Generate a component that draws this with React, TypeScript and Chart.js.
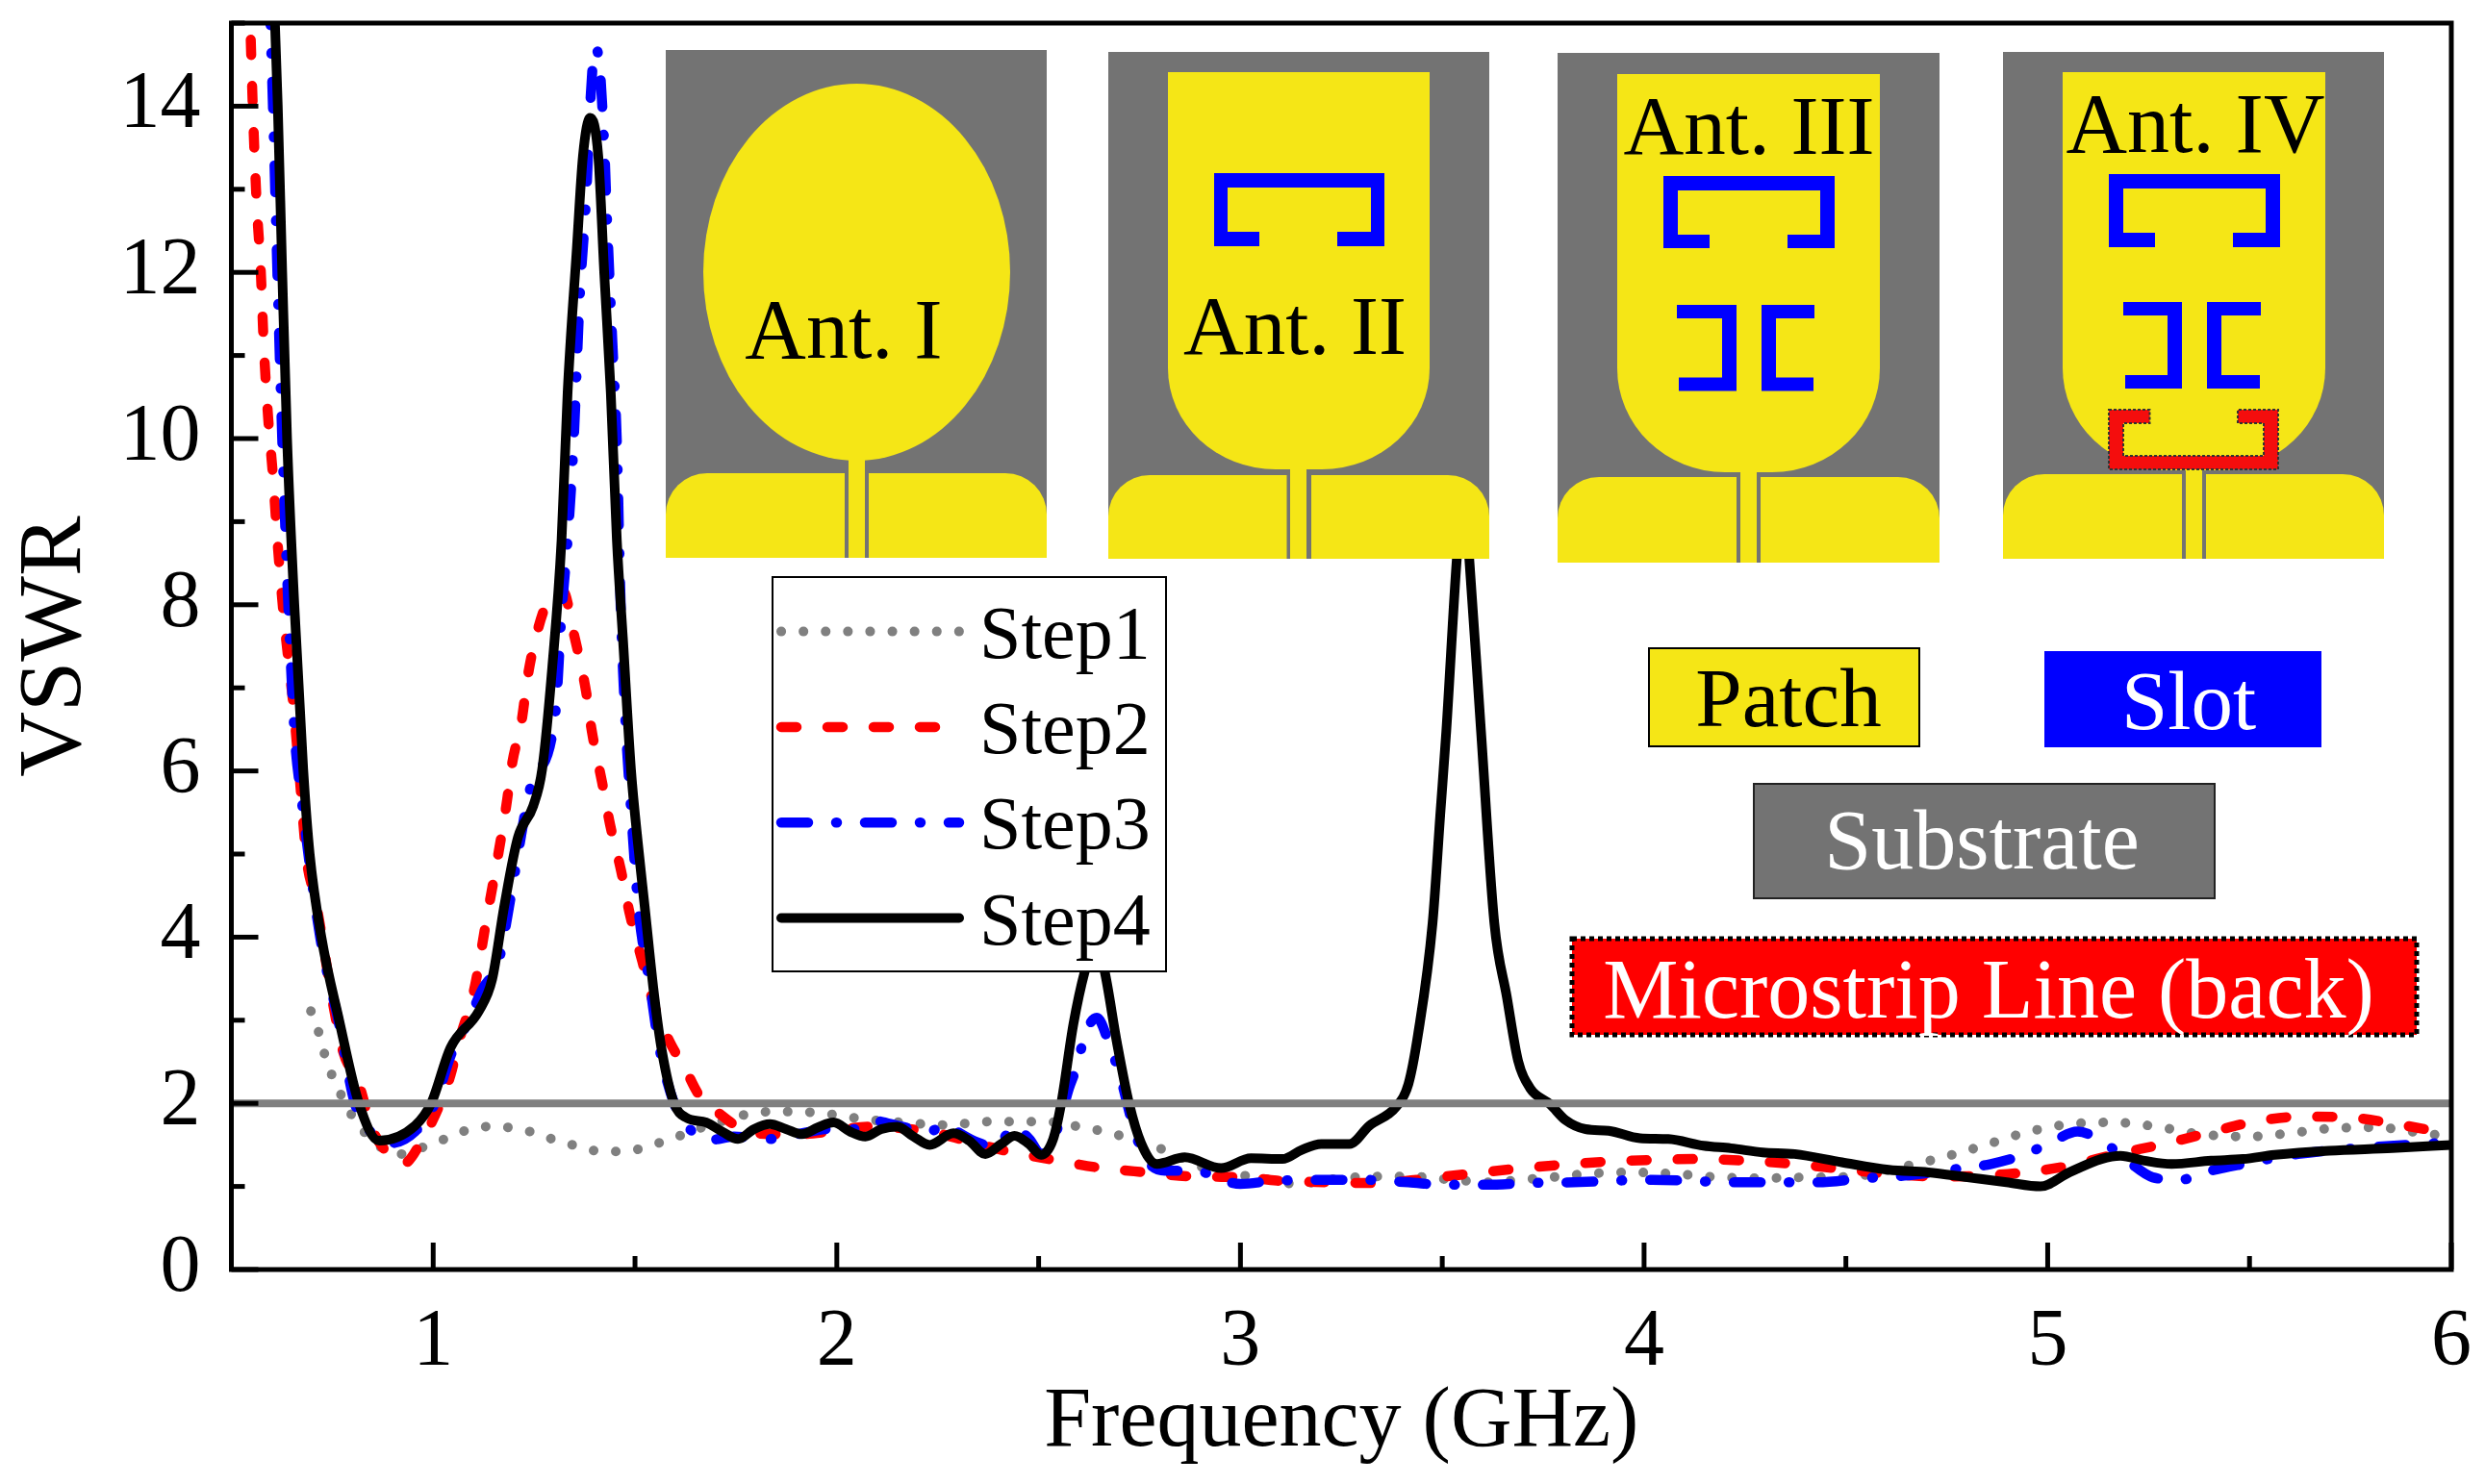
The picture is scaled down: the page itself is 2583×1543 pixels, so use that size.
import React, { useEffect, useRef } from "react";
import { Chart, registerables } from "chart.js";

Chart.register(...registerables);

const xTickStep = 0.5;
const yTickStep = 1;
const legendLabels = ["Step1", "Step2", "Step3", "Step4"];

const step1Freq = [0.697,0.718,0.731,0.749,0.773,0.798,0.832,0.871,0.925,0.974,1.028,1.079,1.132,1.186,1.24,1.295,1.345,1.401,1.455,1.51,1.563,1.617,1.666,1.725,1.779,1.834,1.887,1.943,1.998,2.05,2.107,2.16,2.215,2.269,2.324,2.378,2.437,2.492,2.546,2.599,2.654,2.71,2.763,2.816,2.872,2.93,2.99,3.03,3.14,3.25,3.357,3.416,3.527,3.63,3.688,3.748,3.855,3.968,4.08,4.188,4.294,4.411,4.518,4.625,4.732,4.84,4.946,5.054,5.162,5.27,5.376,5.493,5.6,5.706,5.814,5.93,6];
const step1Vswr = [3.11,2.83,2.59,2.34,2.09,1.86,1.64,1.47,1.39,1.47,1.57,1.67,1.72,1.71,1.66,1.57,1.5,1.43,1.42,1.45,1.53,1.62,1.71,1.8,1.87,1.9,1.9,1.89,1.86,1.82,1.79,1.77,1.75,1.74,1.76,1.78,1.78,1.78,1.77,1.72,1.67,1.6,1.51,1.43,1.3,1.19,1.14,1.12,1.03,1.1,1.12,1.12,1.08,1.05,1.08,1.1,1.15,1.17,1.15,1.11,1.1,1.11,1.12,1.22,1.34,1.49,1.65,1.75,1.77,1.72,1.63,1.6,1.64,1.7,1.71,1.64,1.6];

const step2Freq = [0.548,0.553,0.562,0.573,0.58,0.591,0.603,0.614,0.629,0.642,0.654,0.668,0.687,0.707,0.727,0.747,0.777,0.816,0.846,0.875,0.925,0.974,1.014,1.043,1.063,1.102,1.132,1.162,1.181,1.196,1.219,1.234,1.257,1.287,1.322,1.348,1.379,1.393,1.419,1.438,1.465,1.488,1.518,1.548,1.587,1.626,1.656,1.716,1.765,1.834,1.904,1.982,2.08,2.18,2.259,2.348,2.427,2.536,2.644,2.763,2.882,3.01,3.09,3.22,3.338,3.455,3.562,3.679,3.796,3.912,4.03,4.137,4.255,4.372,4.489,4.606,4.723,4.84,4.946,5.054,5.17,5.287,5.394,5.512,5.628,5.747,5.864,6];
const step2Vswr = [14.8,14,12.9,12,11.15,10.26,9.55,8.78,7.9,7.3,6.77,6.0,4.92,4.48,3.93,3.33,2.62,2.23,1.73,1.47,1.27,1.57,1.96,2.34,2.73,3.38,4.21,5.02,5.58,6.1,6.6,7.13,7.66,8.07,8.16,7.66,6.95,6.48,5.85,5.36,4.81,4.26,3.71,3.17,2.73,2.4,2.12,1.85,1.69,1.63,1.63,1.66,1.72,1.69,1.63,1.51,1.42,1.32,1.23,1.17,1.12,1.11,1.07,1.05,1.04,1.09,1.15,1.21,1.26,1.3,1.32,1.33,1.31,1.27,1.21,1.15,1.12,1.13,1.17,1.25,1.39,1.51,1.64,1.78,1.84,1.83,1.75,1.63];

const step3Freq = [0.595,0.603,0.614,0.626,0.641,0.657,0.673,0.72,0.765,0.806,0.846,0.895,0.955,1.004,1.043,1.083,1.123,1.162,1.192,1.21,1.241,1.303,1.318,1.333,1.348,1.363,1.379,1.39,1.401,1.412,1.424,1.431,1.444,1.455,1.465,1.477,1.488,1.508,1.538,1.558,1.597,1.636,1.686,1.745,1.834,1.904,1.982,2.042,2.09,2.16,2.23,2.269,2.308,2.348,2.397,2.437,2.477,2.506,2.546,2.575,2.595,2.615,2.644,2.674,2.704,2.734,2.763,2.813,2.892,2.952,3,3.09,3.3,3.416,3.503,3.611,3.708,3.825,4.02,4.235,4.43,4.547,4.645,4.742,4.859,4.946,5.015,5.074,5.142,5.2,5.26,5.327,5.405,5.484,5.62,5.796,6];
const step3Vswr = [15.3,14,12,10,8,6.42,5.7,4,3,2,1.65,1.52,1.66,2,2.57,2.95,3.38,3.71,4.48,5,5.8,6.71,7.9,8.78,9.96,11.7,12.9,14.1,14.7,14.5,13.5,12.6,11.15,9.96,7.9,6.54,5.69,4.37,3.39,2.73,2,1.69,1.56,1.6,1.57,1.63,1.69,1.69,1.79,1.72,1.66,1.75,1.63,1.53,1.48,1.72,1.57,1.39,1.69,2.18,2.45,2.83,3.03,2.73,2.29,1.73,1.35,1.19,1.19,1.08,1.03,1.07,1.08,1.05,1.02,1.02,1.04,1.05,1.08,1.05,1.05,1.1,1.13,1.19,1.27,1.39,1.55,1.66,1.52,1.3,1.11,1.08,1.19,1.27,1.39,1.47,1.53];

const step4Freq = [0.605,0.615,0.626,0.638,0.656,0.678,0.694,0.723,0.767,0.816,0.866,0.955,0.995,1.043,1.113,1.146,1.176,1.21,1.248,1.27,1.295,1.318,1.333,1.356,1.371,1.389,1.409,1.424,1.44,1.455,1.47,1.49,1.507,1.524,1.548,1.567,1.597,1.626,1.676,1.716,1.755,1.795,1.834,1.874,1.913,1.953,1.992,2.033,2.071,2.11,2.15,2.19,2.23,2.289,2.328,2.368,2.407,2.44,2.476,2.506,2.536,2.556,2.586,2.615,2.64,2.663,2.694,2.724,2.754,2.793,2.862,2.952,3.026,3.104,3.152,3.2,3.27,3.319,3.386,3.416,3.44,3.476,3.495,3.51,3.536,3.552,3.567,3.596,3.629,3.66,3.688,3.718,3.767,3.805,3.855,3.912,3.99,4.06,4.147,4.215,4.294,4.373,4.49,4.606,4.704,4.801,4.898,4.982,5.054,5.133,5.18,5.24,5.307,5.405,5.484,5.562,5.697,5.854,6];
const step4Vswr = [15.4,14,12,10,8,6.02,5,4,3,2,1.55,1.73,2,2.67,3.11,3.49,4.37,5.2,5.58,6.02,7.25,8.78,10.55,12.3,13.4,13.86,13.4,11.97,10.55,8.78,7.6,6.02,5.14,4.37,3.28,2.62,2,1.83,1.77,1.66,1.57,1.69,1.75,1.69,1.63,1.71,1.77,1.66,1.6,1.69,1.72,1.6,1.5,1.64,1.55,1.39,1.51,1.61,1.51,1.38,1.57,2,2.95,3.6,3.95,3.6,2.73,2,1.52,1.27,1.35,1.22,1.34,1.33,1.44,1.51,1.51,1.73,1.96,2.23,2.83,4.17,5.47,6.48,8.55,9.4,8.55,6.48,4.17,3.28,2.51,2.18,1.99,1.8,1.69,1.67,1.58,1.57,1.49,1.46,1.41,1.39,1.29,1.2,1.17,1.11,1.05,1,1.17,1.33,1.37,1.31,1.27,1.31,1.33,1.38,1.43,1.46,1.5];

const thresholdFreq = [0.5, 6];
const thresholdVswr = [2, 2];

const pairs = (xs: number[], ys: number[]) => xs.map((x, i) => ({ x, y: ys[i] }));

const SERIF = '"Liberation Serif"';
const YELLOW = "#f5e616";
const GREY = "#737373";
const BLUE = "#0000ff";
const RED = "#ff0000";

type P = any;

function rect(c: P, x0: number, y0: number, x1: number, y1: number, color: string) {
  c.fillStyle = color;
  c.fillRect(x0, y0, x1 - x0, y1 - y0);
}

function patchShape(c: P, x0: number, x1: number, top: number, straight: number, bottom: number, rx: number) {
  const ry = bottom - straight;
  c.beginPath();
  c.moveTo(x0, top);
  c.lineTo(x1, top);
  c.lineTo(x1, straight);
  c.ellipse(x1 - rx, straight, rx, ry, 0, 0, Math.PI / 2);
  c.lineTo(x0 + rx, bottom);
  c.ellipse(x0 + rx, straight, rx, ry, 0, Math.PI / 2, Math.PI);
  c.closePath();
  c.fillStyle = YELLOW;
  c.fill();
}

function ground(c: P, pl: number, pr: number, lx: number, rx: number, top: number, bottom: number) {
  const r = 43;
  c.fillStyle = YELLOW;
  c.beginPath();
  c.moveTo(pl, bottom);
  c.lineTo(pl, top + r);
  c.ellipse(pl + r, top + r, r, r, 0, Math.PI, 1.5 * Math.PI);
  c.lineTo(lx, top);
  c.lineTo(lx, bottom);
  c.closePath();
  c.fill();
  c.beginPath();
  c.moveTo(rx, bottom);
  c.lineTo(rx, top);
  c.lineTo(pr - r, top);
  c.ellipse(pr - r, top + r, r, r, 0, 1.5 * Math.PI, 2 * Math.PI);
  c.lineTo(pr, bottom);
  c.closePath();
  c.fill();
}

function polygon(c: P, pts: number[][], color: string, outline = false) {
  c.beginPath();
  pts.forEach((p, i) => (i ? c.lineTo(p[0], p[1]) : c.moveTo(p[0], p[1])));
  c.closePath();
  c.fillStyle = color;
  c.fill();
  if (outline) {
    c.save();
    c.strokeStyle = "#333333";
    c.lineWidth = 2;
    c.setLineDash([3, 2]);
    c.stroke();
    c.restore();
  }
}

// U-shaped slot opening downward
function topSlot(c: P, x0: number, x1: number, y0: number, y1: number, t: number, legW: number, footL: number, footR: number, footTop: number) {
  polygon(c, [[x0, y0], [x1, y0], [x1, y1], [footR, y1], [footR, footTop], [x1 - legW, footTop], [x1 - legW, y0 + t], [x0 + legW, y0 + t], [x0 + legW, footTop], [footL, footTop], [footL, y1], [x0, y1]], BLUE);
}

// "] [" pair of slots
function sideSlots(c: P, lOut: number, lIn: number, rIn: number, rOut: number, y0: number, y1: number, w: number, t: number) {
  polygon(c, [[lOut, y0], [lIn, y0], [lIn, y1], [lOut + 2, y1], [lOut + 2, y1 - t], [lIn - w, y1 - t], [lIn - w, y0 + t], [lOut, y0 + t]], BLUE);
  polygon(c, [[rIn, y0], [rOut, y0], [rOut, y0 + t], [rIn + w, y0 + t], [rIn + w, y1 - t], [rOut - 1, y1 - t], [rOut - 1, y1], [rIn, y1]], BLUE);
}

function label(c: P, text: string, x: number, y: number, size: number, color = "#000", align = "center") {
  c.font = `${size}px ${SERIF}`;
  c.fillStyle = color;
  c.textAlign = align;
  c.textBaseline = "alphabetic";
  c.fillText(text, x, y);
}

function drawInsets(c: P) {
  // Ant. I
  rect(c, 692, 52, 1088, 580, GREY);
  c.fillStyle = YELLOW;
  c.beginPath();
  c.ellipse(890.5, 283, 159.5, 196, 0, 0, Math.PI * 2);
  c.fill();
  ground(c, 692, 1088, 878, 903, 492, 580);
  rect(c, 882, 470, 899, 580, YELLOW);
  label(c, "Ant. I", 877, 372, 88);

  // Ant. II
  rect(c, 1152, 54, 1548, 581, GREY);
  patchShape(c, 1214, 1486, 75, 383, 488, 112);
  ground(c, 1152, 1548, 1337.5, 1363, 494, 581);
  rect(c, 1341, 480, 1358, 581, YELLOW);
  topSlot(c, 1262, 1439, 180, 256, 15, 14, 1309, 1390, 241);
  label(c, "Ant. II", 1346, 368, 87);

  // Ant. III
  rect(c, 1619, 55, 2016, 585, GREY);
  patchShape(c, 1681, 1954, 77, 383, 491, 112);
  ground(c, 1619, 2016, 1805, 1830, 496, 585);
  rect(c, 1809, 485, 1826, 585, YELLOW);
  topSlot(c, 1729, 1907, 183, 258, 15, 15, 1777, 1858, 244);
  sideSlots(c, 1743, 1805, 1831, 1886, 317, 406.5, 15, 14);
  label(c, "Ant. III", 1818, 160, 87);

  // Ant. IV
  rect(c, 2082, 54, 2478, 581, GREY);
  patchShape(c, 2144, 2417, 75, 383, 489, 112);
  ground(c, 2082, 2478, 2268, 2293, 493, 581);
  rect(c, 2272, 480, 2289, 581, YELLOW);
  topSlot(c, 2192, 2370, 181, 257, 15, 15, 2240, 2321, 242);
  sideSlots(c, 2207, 2268, 2294, 2350, 314, 404, 15, 14);
  polygon(c, [[2192, 426], [2234.5, 426], [2234.5, 440], [2207, 440], [2207, 474], [2353, 474], [2353, 440], [2326, 440], [2326, 426], [2368, 426], [2368, 488], [2192, 488]], "#f40d0d", true);
  label(c, "Ant. IV", 2282, 158, 88);

  // Colour key
  rect(c, 1714, 674, 1995, 776, YELLOW);
  c.strokeStyle = "#000";
  c.lineWidth = 2;
  c.strokeRect(1714, 674, 281, 102);
  label(c, "Patch", 1859, 755, 87);

  rect(c, 2125, 677, 2413, 777, BLUE);
  label(c, "Slot", 2275, 758, 87, "#fff");

  rect(c, 1823, 815, 2302, 934, GREY);
  c.strokeStyle = "#222";
  c.lineWidth = 2;
  c.strokeRect(1823, 815, 479, 119);
  label(c, "Substrate", 2060, 903, 88, "#fff");

  rect(c, 1634, 976, 2512, 1076, RED);
  c.save();
  c.strokeStyle = "#000";
  c.lineWidth = 5;
  c.setLineDash([5, 4]);
  c.strokeRect(1634, 976, 878, 100);
  c.restore();
  label(c, "Microstrip Line (back)", 2067, 1058, 88, "#fff");
}

function drawLegend(chart: any) {
  const c = chart.ctx;
  const x0 = 803, y0 = 600, x1 = 1212, y1 = 1010;
  c.save();
  rect(c, x0, y0, x1, y1, "#fff");
  c.strokeStyle = "#000";
  c.lineWidth = 2;
  c.strokeRect(x0, y0, x1 - x0, y1 - y0);
  const rows = chart.data.datasets.filter((d: any) => legendLabels.includes(d.label));
  rows.forEach((d: any, i: number) => {
    const y = 656.6 + i * 99.3;
    c.beginPath();
    c.moveTo(812, y);
    c.lineTo(997, y);
    c.strokeStyle = d.borderColor;
    c.lineWidth = d.borderWidth;
    c.lineCap = "round";
    c.setLineDash(d.borderDash || []);
    c.stroke();
    c.setLineDash([]);
    label(c, d.label, 1018, y + 27, 78, "#000", "left");
  });
  c.restore();
}

const framePlugin = {
  id: "frame",
  afterDatasetsDraw(chart: any) {
    const c = chart.ctx;
    const { left, right, top, bottom } = chart.chartArea;
    c.save();
    c.lineCap = "butt";
    drawInsets(c);
    drawLegend(chart);
    c.setLineDash([]);
    c.strokeStyle = "#000";
    c.lineWidth = 5;
    const sx = chart.scales.x;
    sx.ticks.forEach((t: any, i: number) => {
      const p = sx.getPixelForTick(i);
      const len = Number.isInteger(t.value) ? 28 : 14;
      c.beginPath();
      c.moveTo(p, bottom);
      c.lineTo(p, bottom - len);
      c.stroke();
    });
    const sy = chart.scales.y;
    sy.ticks.forEach((t: any, i: number) => {
      const p = sy.getPixelForTick(i);
      const len = t.value % 2 === 0 ? 28 : 14;
      c.beginPath();
      c.moveTo(left, p);
      c.lineTo(left + len, p);
      c.stroke();
    });
    c.strokeRect(left, top, right - left, bottom - top);
    c.restore();
  },
};

const zeroPad = (s: any) => {
  s.paddingLeft = 0;
  s.paddingRight = 0;
  s.paddingTop = 0;
  s.paddingBottom = 0;
};

export default function App() {
  const ref = useRef<HTMLCanvasElement | null>(null);
  useEffect(() => {
    document.body.style.margin = "0";
    const common = { pointRadius: 0, fill: false, cubicInterpolationMode: "monotone", borderCapStyle: "round", borderJoinStyle: "round", clip: 0 };
    const chart = new Chart(ref.current as any, {
      type: "line",
      data: {
        datasets: [
          { ...common, label: legendLabels[0], data: pairs(step1Freq, step1Vswr), borderColor: "#808080", borderWidth: 10, borderDash: [0.1, 23], order: 5 },
          { ...common, label: legendLabels[1], data: pairs(step2Freq, step2Vswr), borderColor: RED, borderWidth: 10.5, borderDash: [16, 32], order: 4 },
          { ...common, label: legendLabels[2], data: pairs(step3Freq, step3Vswr), borderColor: BLUE, borderWidth: 10.5, borderDash: [28, 29, 1, 29], order: 3 },
          { ...common, label: legendLabels[3], data: pairs(step4Freq, step4Vswr), borderColor: "#000000", borderWidth: 10, order: 2 },
          { ...common, label: "VSWR = 2", data: pairs(thresholdFreq, thresholdVswr), borderColor: "#808080", borderWidth: 8, borderCapStyle: "butt", order: 1 },
        ],
      } as any,
      options: {
        responsive: false,
        devicePixelRatio: 1,
        animation: false,
        layout: { padding: { left: 0, top: 24, right: 35, bottom: 0 } },
        plugins: { legend: { display: false }, tooltip: { enabled: false } },
        scales: {
          x: {
            type: "linear",
            min: 0.5,
            max: 6,
            afterFit: (s: any) => { s.height = 223; zeroPad(s); },
            border: { display: false },
            grid: { display: false, drawTicks: false },
            ticks: {
              stepSize: xTickStep,
              autoSkip: false,
              maxRotation: 0,
              padding: 27,
              color: "#000",
              font: { family: SERIF, size: 84 },
              callback: (v: any) => (Number.isInteger(v) ? String(v) : ""),
            },
            title: { display: true, text: "Frequency (GHz)", color: "#000", font: { family: SERIF, size: 88 }, padding: { top: 0, bottom: 10 } },
          },
          y: {
            type: "linear",
            min: 0,
            max: 15,
            afterFit: (s: any) => { s.width = 240.5; zeroPad(s); },
            border: { display: false },
            grid: { display: false, drawTicks: false },
            ticks: {
              stepSize: yTickStep,
              autoSkip: false,
              padding: 32,
              color: "#000",
              font: { family: SERIF, size: 84 },
              callback: (v: any) => (v % 2 === 0 ? String(v) : ""),
            },
            title: { display: true, text: "VSWR", color: "#000", font: { family: SERIF, size: 94 }, padding: { top: 2, bottom: 0 } },
          },
        },
      } as any,
      plugins: [framePlugin],
    } as any);
    return () => chart.destroy();
  }, []);
  return <canvas ref={ref} width={2583} height={1543} style={{ position: "fixed", left: 0, top: 0, display: "block" }} />;
}
